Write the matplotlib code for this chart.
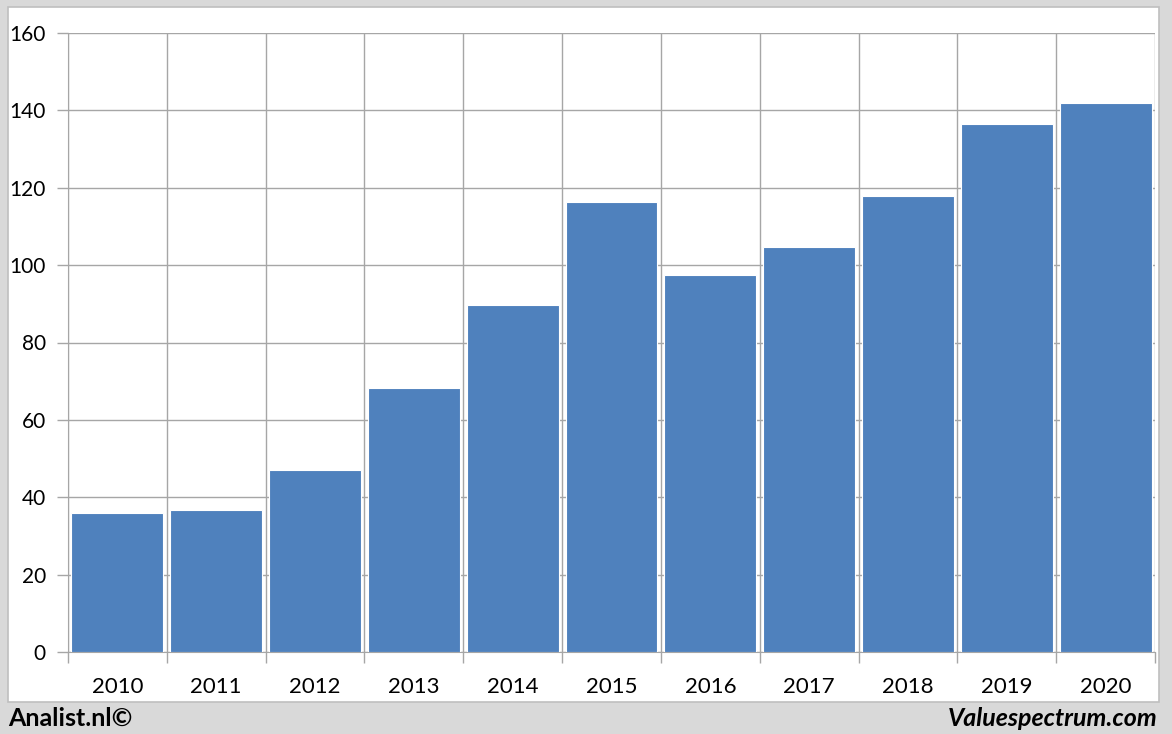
import matplotlib.pyplot as plt
import matplotlib.patches as patches
import numpy as np

plt.rcParams['font.family'] = ['Lato', 'DejaVu Sans']

# ---- data ----
years = ['2010', '2011', '2012', '2013', '2014', '2015',
         '2016', '2017', '2018', '2019', '2020']
values = [35.8, 36.6, 47.0, 68.3, 89.8, 116.4, 97.5, 104.7, 117.9, 136.6, 141.9]

grid_col = '#a6a6a6'
bar_col = '#4f81bd'

fig = plt.figure(figsize=(11.72, 7.34), dpi=100)
fig.patch.set_facecolor('#d9d9d9')

# white panel behind the plot
panel = patches.Rectangle((8 / 1172, 32 / 734), 1151 / 1172, 695 / 734,
                          transform=fig.transFigure, facecolor='white',
                          edgecolor='#bfbfbf', linewidth=1.2, zorder=-10)
fig.patches.append(panel)

ax = fig.add_axes([68 / 1172, 82 / 734, 1087 / 1172, 619 / 734])
ax.set_zorder(1)
ax.set_facecolor('white')
x = np.arange(len(years))
ax.bar(x, values, width=0.93, color=bar_col, edgecolor='white',
       linewidth=0.8, zorder=3)

ax.set_xlim(-0.5, len(years) - 0.5)
ax.set_ylim(0, 160)
ax.set_yticks(np.arange(0, 161, 20))
ax.set_xticks(x)
ax.set_xticklabels(years)
ax.set_xticks(np.arange(-0.5, len(years)), minor=True)

ax.yaxis.grid(True, color=grid_col, linewidth=1.0, zorder=0)
ax.xaxis.grid(True, which='minor', color=grid_col, linewidth=1.0, zorder=0)
ax.set_axisbelow(True)

ax.tick_params(axis='x', which='major', length=0, pad=18, labelsize=16)
ax.tick_params(axis='x', which='minor', length=8, color=grid_col, width=1.0)
ax.tick_params(axis='y', length=8, color=grid_col, width=1.0, pad=8,
               labelsize=15)

for s in ['top', 'right']:
    ax.spines[s].set_visible(False)
ax.spines['left'].set_color(grid_col)
ax.spines['bottom'].set_color(grid_col)

fig.text(8 / 1172, 16 / 734, 'Analist.nl©', fontsize=18, fontweight='bold',
         ha='left', va='center')
fig.text(1158 / 1172, 16 / 734, 'Valuespectrum.com', fontsize=18,
         fontweight='bold', fontstyle='italic', ha='right', va='center')

fig.savefig('out.png', dpi=100, facecolor=fig.get_facecolor())
